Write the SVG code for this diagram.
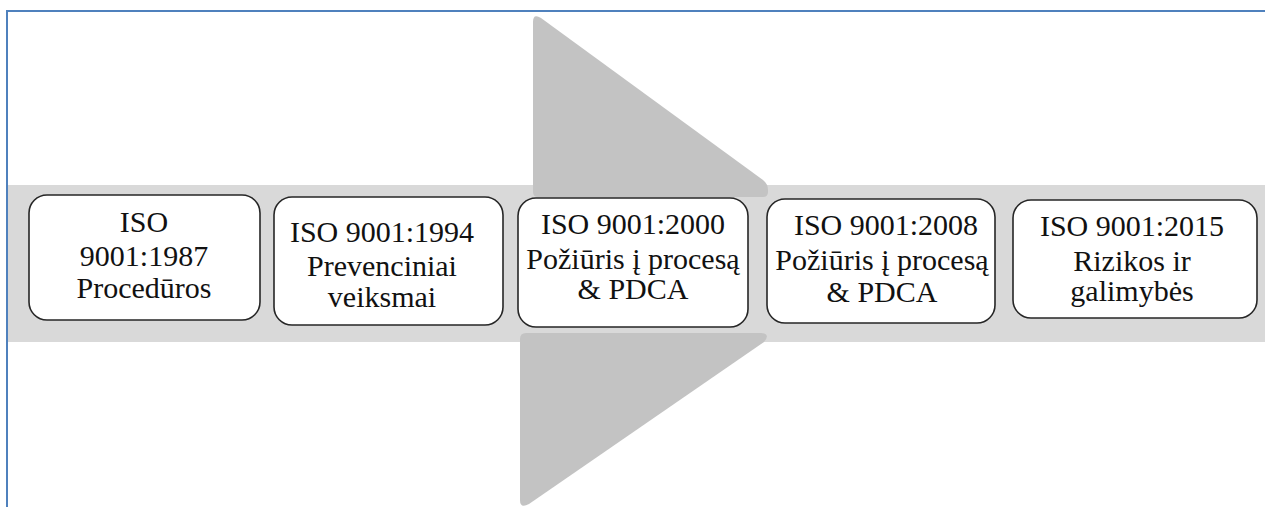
<svg xmlns="http://www.w3.org/2000/svg" width="1265" height="507" viewBox="0 0 1265 507">
  <style>
    .box { fill: #ffffff; stroke: #262626; stroke-width: 1.6; }
    .lbl { font-family: 'Liberation Serif', 'DejaVu Serif', 'Times New Roman', serif; font-size: 30px; fill: #111111; text-anchor: middle; }
    .arrow { fill: #c3c3c3; }
    .frame { stroke: #4f81bd; stroke-width: 2; fill: none; }
  </style>
  <rect width="1265" height="507" fill="#ffffff"/>
  <g id="frame">
    <path class="frame" d="M7,507 L7,11 L1265,11"/>
  </g>
  <g id="band">
    <rect x="8" y="185" width="1257" height="157" fill="#d9d9d9"/>
  </g>
  <g id="arrow">
    <path class="arrow" d="M533,22 Q533,13 541,18 L763,180 Q768,184 768,190 L768,192 Q768,197 763,197 L538,197 Q533,197 533,192 Z"/>
    <path class="arrow" d="M520,339 Q520,333 526,333 L761,333 Q771,334 764,342 L529,504 Q520,509 520,500 Z"/>
  </g>
  <g id="node1">
    <rect class="box" x="29" y="195" width="231" height="125" rx="18"/>
    <text class="lbl" x="144" y="232">ISO</text>
    <text class="lbl" x="144" y="266">9001:1987</text>
    <text class="lbl" x="144" y="298">Procedūros</text>
  </g>
  <g id="node2">
    <rect class="box" x="274" y="197" width="229" height="128" rx="18"/>
    <text class="lbl" x="382" y="242">ISO 9001:1994</text>
    <text class="lbl" x="382" y="276">Prevenciniai</text>
    <text class="lbl" x="382" y="307">veiksmai</text>
  </g>
  <g id="node3">
    <rect class="box" x="518" y="198" width="230" height="129" rx="18"/>
    <text class="lbl" x="633" y="234">ISO 9001:2000</text>
    <text class="lbl" x="633" y="269">Požiūris į procesą</text>
    <text class="lbl" x="633" y="299">&amp; PDCA</text>
  </g>
  <g id="node4">
    <rect class="box" x="767" y="199" width="228" height="124" rx="18"/>
    <text class="lbl" x="886" y="235">ISO 9001:2008</text>
    <text class="lbl" x="882" y="270">Požiūris į procesą</text>
    <text class="lbl" x="882" y="302">&amp; PDCA</text>
  </g>
  <g id="node5">
    <rect class="box" x="1013" y="200" width="244" height="118" rx="18"/>
    <text class="lbl" x="1132" y="236">ISO 9001:2015</text>
    <text class="lbl" x="1132" y="271">Rizikos ir</text>
    <text class="lbl" x="1132" y="301">galimybės</text>
  </g>
  <g id="connectors"/>
</svg>
